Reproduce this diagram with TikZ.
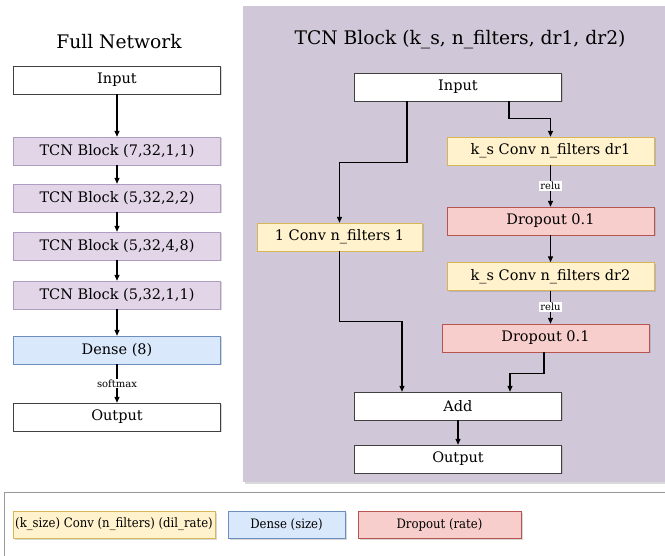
\documentclass[tikz,border=0pt]{standalone}
\usepackage{fontspec}
\setmainfont{DejaVu Serif}
\newfontfamily\condfont{DejaVu Serif Condensed}
\usetikzlibrary{arrows.meta,shadows,positioning}

\definecolor{tcnfill}{HTML}{E1D5E7}
\definecolor{tcnline}{HTML}{B09CC0}
\definecolor{convfill}{HTML}{FFF2CC}
\definecolor{convline}{HTML}{D6B656}
\definecolor{densefill}{HTML}{DAE8FC}
\definecolor{denseline}{HTML}{6C8EBF}
\definecolor{dropfill}{HTML}{F8CECC}
\definecolor{dropline}{HTML}{B85450}
\definecolor{panelfill}{HTML}{D0C8D8}

\tikzset{
  layer/.style={draw=black!75, fill=white, minimum width=207pt, minimum height=28pt,
    inner sep=0pt, font=\fontsize{14.5}{16}\selectfont,
    drop shadow={shadow xshift=1.5pt, shadow yshift=-1.5pt, opacity=0.3}},
  tcn/.style={layer, draw=tcnline, fill=tcnfill},
  conv/.style={layer, draw=convline, fill=convfill},
  dense/.style={layer, draw=denseline, fill=densefill},
  dropout/.style={layer, draw=dropline, fill=dropfill},
  keybox/.style={minimum height=27pt, font=\condfont\fontsize{13}{15}\selectfont},
  flow/.style={-{Triangle[length=6pt,width=5pt]}, line width=1.3pt},
  act/.style={fill=white, inner sep=1pt, font=\fontsize{10}{11}\selectfont},
  heading/.style={font=\fontsize{18.7}{22}\selectfont},
}

\begin{document}
\begin{tikzpicture}[x=1pt, y=-1pt]
  \useasboundingbox (0,0) rectangle (665,556);

  % background of the block detail
  \fill[panelfill, drop shadow={shadow xshift=1.5pt, shadow yshift=-2pt, opacity=0.3}]
    (243,6) rectangle (675,482);

  % full network
  \node[heading] (nettitle) at (119,42) {Full Network};
  \node[layer] (netin) at (117,80) {Input};
  \node[tcn] (b1) at (117,151) {TCN Block (7,32,1,1)};
  \node[tcn] (b2) at (117,198) {TCN Block (5,32,2,2)};
  \node[tcn] (b3) at (117,246) {TCN Block (5,32,4,8)};
  \node[tcn] (b4) at (117,295) {TCN Block (5,32,1,1)};
  \node[dense] (fc) at (117,350) {Dense (8)};
  \node[layer] (netout) at (117,417) {Output};

  \draw[flow] (netin) -- (b1);
  \draw[flow] (b1) -- (b2);
  \draw[flow] (b2) -- (b3);
  \draw[flow] (b3) -- (b4);
  \draw[flow] (b4) -- (fc);
  \draw[flow] (fc) -- node[act] {softmax} (netout);

  % one tcn block
  \node[heading] (blktitle) at (460,40) {TCN Block (k\_s, n\_filters, dr1, dr2)};
  \node[layer] (blkin) at (458,87) {Input};
  \node[conv] (c1) at (550.5,151) {k\_s Conv n\_filters dr1};
  \node[dropout] (d1) at (550.5,221) {Dropout 0.1};
  \node[conv, minimum width=165pt] (skip) at (339.5,237) {1 Conv n\_filters 1};
  \node[conv] (c2) at (550.5,276.5) {k\_s Conv n\_filters dr2};
  \node[dropout] (d2) at (545.5,338) {Dropout 0.1};
  \node[layer] (add) at (458,406) {Add};
  \node[layer] (blkout) at (458,459) {Output};

  \draw[flow] ([xshift=51pt]blkin.south) -- ++(0,17) -| (c1.north);
  \draw[flow] ([xshift=-51pt]blkin.south) -- ++(0,61) -| (skip.north);
  \draw[flow] (c1) -- node[act] {relu} (d1);
  \draw[flow] (d1.south -| c1) -- (c2.north);
  \draw[flow] (c2.south) -- node[act] {relu} (c2.south |- d2.north);
  \draw[flow] ([xshift=-1.5pt]d2.south) -- ++(0,21) -| ([xshift=52pt]add.north);
  \draw[flow] (skip.south) -- ++(0,70) -| ([xshift=-56pt]add.north);
  \draw[flow] (add) -- (blkout);

  % legend
  \draw[draw=black!40, fill=white] (4,492) rectangle (675,565);
  \node[conv, keybox, minimum width=202pt] (keyconv) at (114,524.5) {(k\_size) Conv (n\_filters) (dil\_rate)};
  \node[dense, keybox, minimum width=117pt] (keydense) at (286.5,524.5) {Dense (size)};
  \node[dropout, keybox, minimum width=163pt] (keydrop) at (439.5,524.5) {Dropout (rate)};
\end{tikzpicture}
\end{document}
